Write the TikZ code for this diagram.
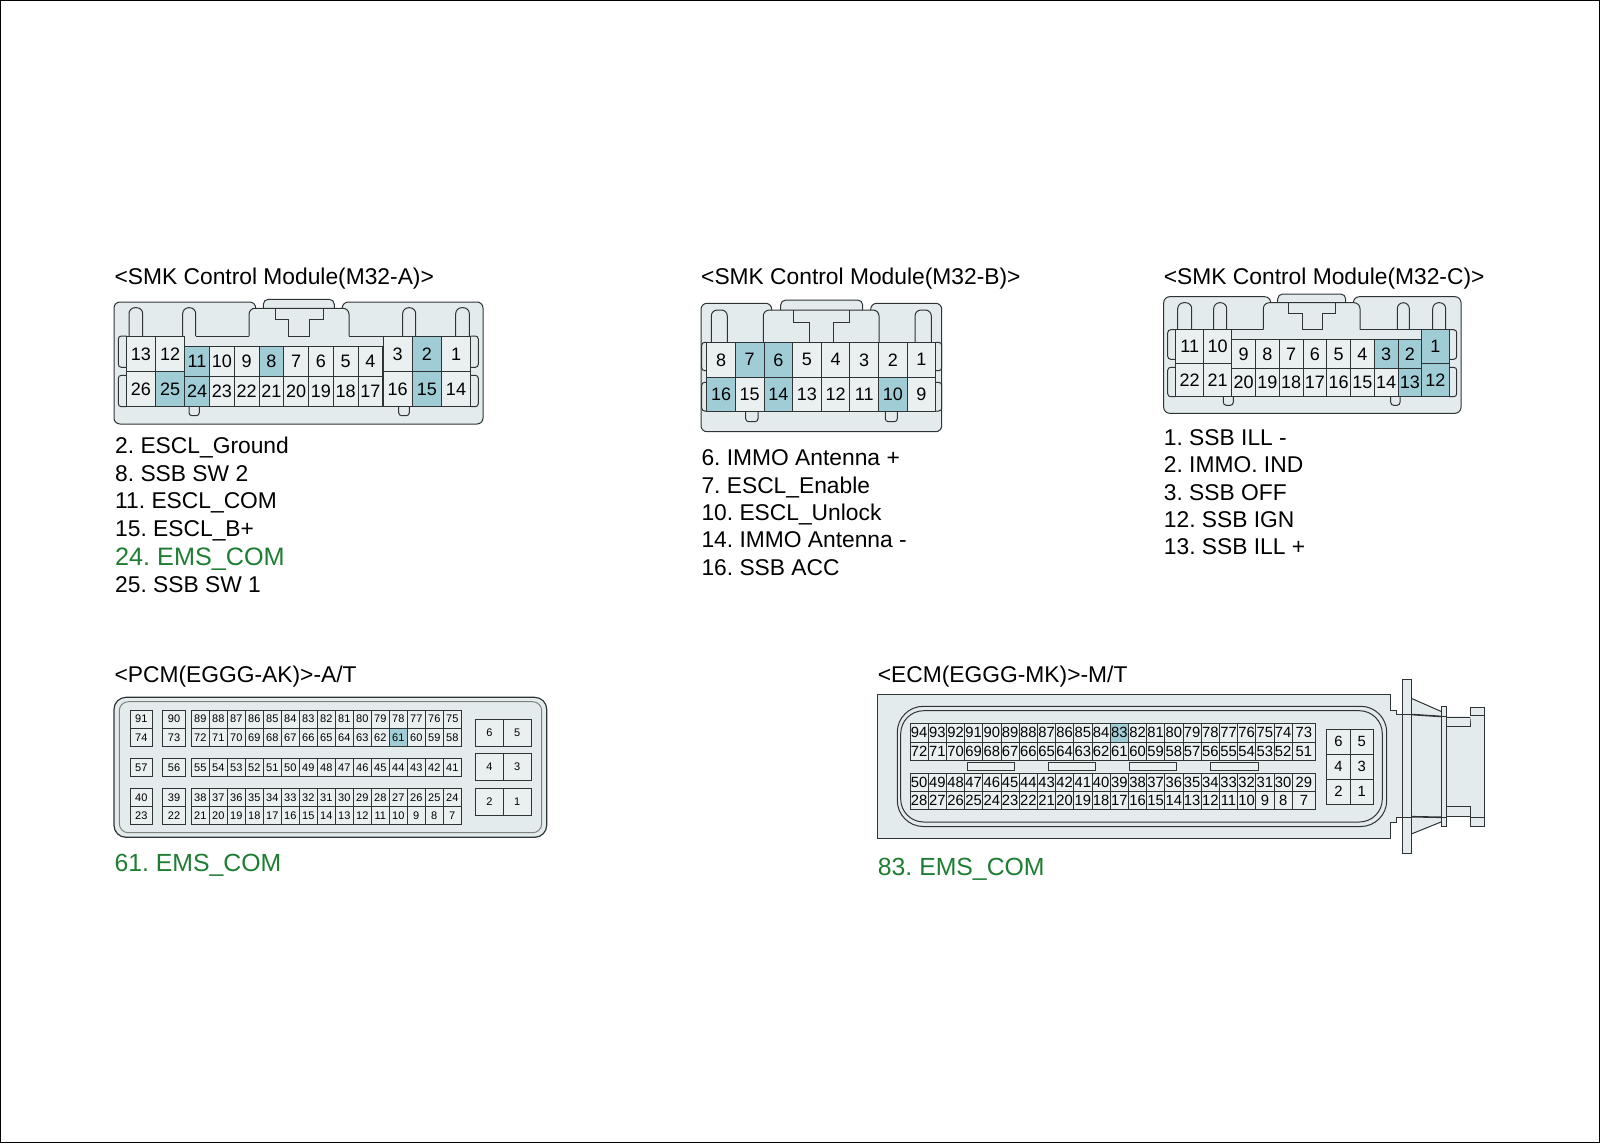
\documentclass[tikz,border=0pt]{standalone}
\usepackage{fontspec}
\setmainfont{Liberation Sans}
\frenchspacing
\definecolor{bodycol}{HTML}{E3EBED}
\definecolor{cellcol}{HTML}{EAEFEF}
\definecolor{hotcol}{HTML}{A0CCD6}
\definecolor{linecol}{HTML}{2E3436}
\definecolor{emscol}{HTML}{1E7D32}
\tikzset{
  body/.style={draw=linecol,fill=bodycol,line width=1pt},
  edge/.style={draw=linecol,line width=1pt},
  pinbox/.style={draw=linecol,fill=cellcol,line width=.8pt,inner sep=0pt,outer sep=0pt},
  title/.style={anchor=base west,inner sep=0pt,font=\fontsize{22.8}{28}\selectfont},
  item/.style={anchor=base west,inner sep=0pt,font=\fontsize{22.8}{28}\selectfont},
  emsitem/.style={anchor=base west,inner sep=0pt,text=emscol,font=\fontsize{25.2}{30}\selectfont},
  emsnote/.style={emsitem,font=\fontsize{24.8}{30}\selectfont}
}
% name prefix, left, top, pin width, pin height, pin numbers
\newcommand{\pinrow}[6]{%
  \foreach \n [count=\k from 0] in {#6} {
    \node[pinbox,hot \n/.try,minimum width=#4pt,minimum height=#5pt] (#1\n) at ({#2+(\k+.5)*#4},{#3+#5/2}) {\n};
  }}
\begin{document}
\begin{tikzpicture}[x=1pt,y=-1pt]
  \useasboundingbox (0,0) rectangle (1600,1143);
  \draw[black,line width=1pt] (.5,.5) rectangle (1599.5,1142.5);

  % M32-A
  \node[title] (titleA) at (114.4,284) {<SMK Control Module(M32-A)>};
  \filldraw[body,rounded corners=6pt] (255.7,308.3) -- (255.7,302) -- (114,302) -- (114,424) -- (483,424) -- (483,302) -- (342.3,302) -- (342.3,308.3);
  \filldraw[body,rounded corners=5pt] (263.3,308.3) -- (263.3,299.3) -- (334.3,299.3) -- (334.3,308.3);
  \draw[edge,rounded corners=6pt] (129,336) -- (129,307.7) -- (142.7,307.7) -- (142.7,336);
  \draw[edge,rounded corners=6pt] (182.7,336) -- (182.7,307.7) -- (195.7,307.7) -- (195.7,336);
  \draw[edge] (195.7,336) -- (249,336);
  \draw[edge,rounded corners=6pt] (249,336) -- (249,308.3) -- (349,308.3) -- (349,336);
  \draw[edge] (349,336) -- (383,336);
  \draw[edge,rounded corners=6pt] (402.7,336) -- (402.7,307.7) -- (415.7,307.7) -- (415.7,336);
  \draw[edge,rounded corners=6pt] (455.7,336) -- (455.7,307.7) -- (469.3,307.7) -- (469.3,336);
  \draw[edge] (275,308.3) -- (275,319.3) -- (288.7,319.3) -- (288.7,336) -- (309.3,336) -- (309.3,319.3) -- (323.3,319.3) -- (323.3,308.3);
  \draw[edge,rounded corners=3pt] (126.7,336) -- (118.3,336) -- (118.3,367.3) -- (126.7,367.3);
  \draw[edge,rounded corners=3pt] (126.7,375.3) -- (118.3,375.3) -- (118.3,406.7) -- (126.7,406.7);
  \draw[edge,rounded corners=3pt] (470.7,336) -- (478.3,336) -- (478.3,367.3) -- (470.7,367.3);
  \draw[edge,rounded corners=3pt] (470.7,375.3) -- (478.3,375.3) -- (478.3,406.7) -- (470.7,406.7);
  \draw[edge,rounded corners=3pt] (189,406.7) -- (189,415.7) -- (199.3,415.7) -- (199.3,406.7);
  \draw[edge,rounded corners=3pt] (398.7,406.7) -- (398.7,415.7) -- (409.3,415.7) -- (409.3,406.7);
  \begin{scope}[pinbox/.append style={font=\fontsize{18}{20}\selectfont},
      hot 2/.style={fill=hotcol},hot 8/.style={fill=hotcol},hot 11/.style={fill=hotcol},
      hot 15/.style={fill=hotcol},hot 24/.style={fill=hotcol},hot 25/.style={fill=hotcol}]
    \pinrow{a}{126.3}{336}{29.2}{35.7}{13,12}
    \pinrow{a}{126.3}{371.7}{29.2}{35}{26,25}
    \pinrow{a}{184.7}{346}{24.76}{30.7}{11,10,...,4}
    \pinrow{a}{184.7}{376.7}{24.76}{30}{24,23,...,17}
    \pinrow{a}{383}{336}{29.2}{35.7}{3,2,1}
    \pinrow{a}{383}{371.7}{29.2}{35}{16,15,14}
  \end{scope}
  \node[item] (a2) at (115,453.5) {2. ESCL\_Ground};
  \node[item] (a8) at (115,481) {8. SSB SW 2};
  \node[item] (a11) at (115,508.5) {11. ESCL\_COM};
  \node[item] (a15) at (115,536) {15. ESCL\_B+};
  \node[emsitem] (a24) at (115,565) {24. EMS\_COM};
  \node[item] (a25) at (115,592) {25. SSB SW 1};

  % M32-B
  \node[title] (titleB) at (701,284) {<SMK Control Module(M32-B)>};
  \filldraw[body,rounded corners=6pt] (771.7,310) -- (771.7,303.3) -- (701,303.3) -- (701,431.7) -- (941.7,431.7) -- (941.7,303.3) -- (870.7,303.3) -- (870.7,310);
  \filldraw[body,rounded corners=5pt] (780.7,310) -- (780.7,300) -- (862.7,300) -- (862.7,310);
  \draw[edge,rounded corners=6pt] (711.3,342.3) -- (711.3,310) -- (727.3,310) -- (727.3,342.3);
  \draw[edge,rounded corners=6pt] (763.3,342.3) -- (763.3,310) -- (879,310) -- (879,342.3);
  \draw[edge,rounded corners=6pt] (915,342.3) -- (915,310) -- (931.3,310) -- (931.3,342.3);
  \draw[edge] (793.3,310) -- (793.3,322.7) -- (809.7,322.7) -- (809.7,342.3);
  \draw[edge] (833.3,342.3) -- (833.3,322.7) -- (849.3,322.7) -- (849.3,310);
  \draw[edge,rounded corners=3pt] (706.7,342.3) -- (701.7,342.3) -- (701.7,370.7) -- (706.7,370.7);
  \draw[edge,rounded corners=3pt] (706.7,382.3) -- (701.7,382.3) -- (701.7,411) -- (706.7,411);
  \draw[edge,rounded corners=3pt] (935.7,342.3) -- (941.7,342.3) -- (941.7,370.7) -- (935.7,370.7);
  \draw[edge,rounded corners=3pt] (935.7,382.3) -- (941.7,382.3) -- (941.7,411) -- (935.7,411);
  \draw[edge,rounded corners=3pt] (745.7,411) -- (745.7,421.7) -- (758,421.7) -- (758,411);
  \draw[edge,rounded corners=3pt] (885.3,411) -- (885.3,421.7) -- (897.3,421.7) -- (897.3,411);
  \begin{scope}[pinbox/.append style={font=\fontsize{18}{20}\selectfont},
      hot 6/.style={fill=hotcol},hot 7/.style={fill=hotcol},hot 10/.style={fill=hotcol},
      hot 14/.style={fill=hotcol},hot 16/.style={fill=hotcol}]
    \pinrow{b}{706.7}{342.3}{28.63}{35}{8,7,...,1}
    \pinrow{b}{706.7}{377.3}{28.63}{33.7}{16,15,...,9}
  \end{scope}
  \node[item] (b6) at (701.3,465.7) {6. IMMO Antenna +};
  \node[item] (b7) at (701.3,493.3) {7. ESCL\_Enable};
  \node[item] (b10) at (701.3,520.9) {10. ESCL\_Unlock};
  \node[item] (b14) at (701.3,547.5) {14. IMMO Antenna -};
  \node[item] (b16) at (701.3,575) {16. SSB ACC};

  % M32-C
  \node[title] (titleC) at (1163.7,284) {<SMK Control Module(M32-C)>};
  \filldraw[body,rounded corners=6pt] (1270.7,302.7) -- (1270.7,296.7) -- (1163.7,296.7) -- (1163.7,413.3) -- (1461,413.3) -- (1461,296.7) -- (1353.3,296.7) -- (1353.3,302.7);
  \filldraw[body,rounded corners=5pt] (1277.7,302.7) -- (1277.7,294) -- (1345.7,294) -- (1345.7,302.7);
  \draw[edge,rounded corners=6pt] (1177.7,329.7) -- (1177.7,302.7) -- (1191.7,302.7) -- (1191.7,329.7);
  \draw[edge,rounded corners=6pt] (1213.7,329.7) -- (1213.7,302.7) -- (1226.7,302.7) -- (1226.7,329.7);
  \draw[edge] (1231.7,329.7) -- (1263.3,329.7);
  \draw[edge,rounded corners=6pt] (1263.3,329.7) -- (1263.3,302.7) -- (1360,302.7) -- (1360,329.7);
  \draw[edge] (1360,329.7) -- (1421.7,329.7);
  \draw[edge,rounded corners=6pt] (1397.3,329.7) -- (1397.3,302.7) -- (1409.3,302.7) -- (1409.3,329.7);
  \draw[edge,rounded corners=6pt] (1432.7,329.7) -- (1432.7,302.7) -- (1445.7,302.7) -- (1445.7,329.7);
  \draw[edge] (1288.7,302.7) -- (1288.7,313.3) -- (1302.3,313.3) -- (1302.3,329.7) -- (1322.3,329.7) -- (1322.3,313.3) -- (1335,313.3) -- (1335,302.7);
  \draw[edge,rounded corners=3pt] (1175.7,329.7) -- (1167.7,329.7) -- (1167.7,359.3) -- (1175.7,359.3);
  \draw[edge,rounded corners=3pt] (1175.7,367.3) -- (1167.7,367.3) -- (1167.7,396.7) -- (1175.7,396.7);
  \draw[edge,rounded corners=3pt] (1449,329.7) -- (1456.7,329.7) -- (1456.7,359.3) -- (1449,359.3);
  \draw[edge,rounded corners=3pt] (1449,367.3) -- (1456.7,367.3) -- (1456.7,396.7) -- (1449,396.7);
  \draw[edge,rounded corners=3pt] (1223.3,396.7) -- (1223.3,405.3) -- (1233.3,405.3) -- (1233.3,396.7);
  \draw[edge,rounded corners=3pt] (1390.7,396.7) -- (1390.7,405.3) -- (1400,405.3) -- (1400,396.7);
  \begin{scope}[pinbox/.append style={font=\fontsize{18}{20}\selectfont},
      hot 1/.style={fill=hotcol},hot 2/.style={fill=hotcol},hot 3/.style={fill=hotcol},
      hot 12/.style={fill=hotcol},hot 13/.style={fill=hotcol}]
    \pinrow{c}{1175.7}{329.7}{28}{33.6}{11,10}
    \pinrow{c}{1175.7}{363.3}{28}{33.4}{22,21}
    \pinrow{c}{1231.7}{339.7}{23.75}{28.6}{9,8,...,2}
    \pinrow{c}{1231.7}{368.3}{23.75}{28.4}{20,19,...,13}
    \pinrow{c}{1421.7}{329.7}{27.3}{33.6}{1}
    \pinrow{c}{1421.7}{363.3}{27.3}{33.4}{12}
  \end{scope}
  \node[item] (c1) at (1163.7,445.3) {1. SSB ILL -};
  \node[item] (c2) at (1163.7,472.9) {2. IMMO. IND};
  \node[item] (c3) at (1163.7,500.5) {3. SSB OFF};
  \node[item] (c12) at (1163.7,527) {12. SSB IGN};
  \node[item] (c13) at (1163.7,554.6) {13. SSB ILL +};

  % PCM
  \node[title] (titleP) at (114.4,682) {<PCM(EGGG-AK)>-A/T};
  \filldraw[body,line width=1.2pt,rounded corners=12pt] (114,697.3) rectangle (546.7,837.3);
  \draw[edge,draw=gray,rounded corners=9pt] (119.3,701.7) rectangle (541.7,832.7);
  \begin{scope}[pinbox/.append style={font=\fontsize{11}{12}\selectfont},hot 61/.style={fill=hotcol}]
    \pinrow{p}{130}{710}{22.7}{18.2}{91}
    \pinrow{p}{130}{728.3}{22.7}{18}{74}
    \pinrow{p}{162.7}{710}{22.7}{18.2}{90}
    \pinrow{p}{162.7}{728.3}{22.7}{18}{73}
    \pinrow{p}{191.3}{710}{18}{18.2}{89,88,...,75}
    \pinrow{p}{191.3}{728.3}{18}{18}{72,71,...,58}
    \pinrow{p}{130}{758.7}{22.7}{17.6}{57}
    \pinrow{p}{162.7}{758.7}{22.7}{17.6}{56}
    \pinrow{p}{191.3}{758.7}{18}{17.6}{55,54,...,41}
    \pinrow{p}{130}{788.7}{22.7}{18}{40}
    \pinrow{p}{130}{806.7}{22.7}{17.6}{23}
    \pinrow{p}{162.7}{788.7}{22.7}{18}{39}
    \pinrow{p}{162.7}{806.7}{22.7}{17.6}{22}
    \pinrow{p}{191.3}{788.7}{18}{18}{38,37,...,24}
    \pinrow{p}{191.3}{806.7}{18}{17.6}{21,20,...,7}
    \pinrow{q}{475.7}{719.3}{27.65}{27}{6,5}
    \pinrow{q}{475.7}{753.3}{27.65}{27.4}{4,3}
    \pinrow{q}{475.7}{788.3}{27.65}{27}{2,1}
  \end{scope}
  \node[emsnote] (p61) at (114.4,871) {61. EMS\_COM};

  % ECM
  \node[title] (titleE) at (877.7,682) {<ECM(EGGG-MK)>-M/T};
  \filldraw[body] (1402.7,714.5) -- (1396.7,714.5) -- (1396.7,710) -- (1390,710) -- (1390,694) -- (877.3,694) -- (877.3,838.5) -- (1390,838.5) -- (1390,822.7) -- (1396.7,822.7) -- (1396.7,817.7) -- (1402.7,817.7);
  \filldraw[body] (1411.3,698.3) -- (1441.7,711.7) -- (1441.7,821.7) -- (1411.3,834) -- cycle;
  \fill[bodycol] (1446.7,716) rectangle (1484,817);
  \draw[edge,line width=1.6pt] (1411.3,714.5) -- (1441.7,716.5);
  \draw[edge,line width=1.6pt] (1411.3,816.7) -- (1441.7,817.3);
  \filldraw[body] (1402.7,679.3) rectangle (1411.3,853);
  \draw[edge] (1402.7,714.2) -- (1411.3,714.2);
  \draw[edge] (1402.7,817.7) -- (1411.3,817.7);
  \filldraw[body] (1441.7,706.7) rectangle (1446.7,826);
  \draw[edge] (1441.7,716.3) -- (1446.7,716.3);
  \draw[edge] (1441.7,817) -- (1446.7,817);
  \filldraw[body] (1446.7,717.7) -- (1470,717.7) -- (1470,726) -- (1446.7,726);
  \filldraw[body] (1446.7,806.7) -- (1470,806.7) -- (1470,816.7) -- (1446.7,816.7);
  \filldraw[body] (1470,715.7) -- (1470,707.3) -- (1484,707.3) -- (1484,826) -- (1470,826) -- (1470,817) -- (1484,817);
  \draw[edge] (1470,715.7) -- (1484,715.7);
  \draw[edge,rounded corners=26pt] (897.3,706.3) rectangle (1386.7,826.5);
  \draw[edge,rounded corners=23pt] (900.7,710.7) rectangle (1382.3,822);
  \begin{scope}[pinbox/.append style={font=\fontsize{14.8}{16}\selectfont},hot 83/.style={fill=hotcol}]
    \pinrow{e}{910}{723.7}{18.2}{18.3}{94,93,...,74}
    \pinrow{e}{1292.7}{723.7}{22.3}{18.3}{73}
    \pinrow{e}{910}{742}{18.2}{18.3}{72,71,...,52}
    \pinrow{e}{1292.7}{742}{22.3}{18.3}{51}
    \pinrow{e}{910}{773.3}{18.2}{17.7}{50,49,...,30}
    \pinrow{e}{1292.7}{773.3}{22.3}{17.7}{29}
    \pinrow{e}{910}{791}{18.2}{18.3}{28,27,...,8}
    \pinrow{e}{1292.7}{791}{22.3}{18.3}{7}
    \pinrow{f}{1326.7}{729}{23.3}{25}{6,5}
    \pinrow{f}{1326.7}{754}{23.3}{25.3}{4,3}
    \pinrow{f}{1326.7}{779.3}{23.3}{25}{2,1}
  \end{scope}
  \foreach \x in {967.3,1048.3,1129.3,1210.7}
    \draw[edge,fill=cellcol] (\x,762.3) rectangle ++(47.3,8.4);
  \node[emsnote] (e83) at (877.7,875) {83. EMS\_COM};
\end{tikzpicture}
\end{document}
